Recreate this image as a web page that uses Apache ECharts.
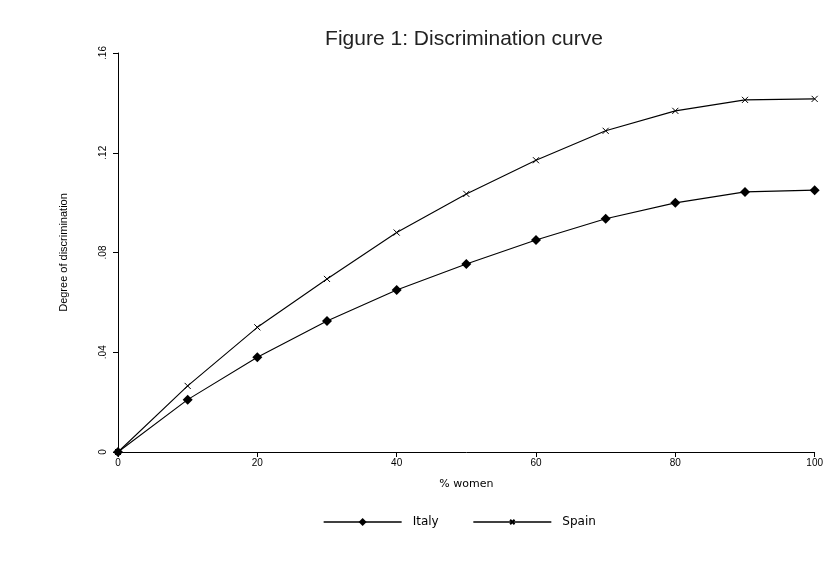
<!DOCTYPE html>
<html><head><meta charset="utf-8">
<script src="https://cdn.jsdelivr.net/npm/echarts@6/dist/echarts.min.js"></script>
<style>html,body{margin:0;padding:0;background:#fff}#c{width:826px;height:563px}</style>
</head><body><div id="c"></div>
<script>
const categories = [0, 10, 20, 30, 40, 50, 60, 70, 80, 90, 100];
const italy = [0, 0.021, 0.038, 0.0525, 0.065, 0.0754, 0.085, 0.0935, 0.0999, 0.1043, 0.105];
const spain = [0, 0.0265, 0.050, 0.0694, 0.088, 0.1035, 0.117, 0.1288, 0.1368, 0.1412, 0.1416];
const yTicks = ['0', '.04', '.08', '.12', '.16'];

const chart = echarts.init(document.getElementById('c'));
const font = 'Liberation Sans, Arial, sans-serif';
const crossPadded = 'path://M-4,-4M0,0L10,10M10,0L0,10M14,14';
chart.setOption({
  backgroundColor: '#fff',
  animation: false,
  title: {
    text: 'Figure 1: Discrimination curve',
    left: 459, top: 24, textAlign: 'center',
    textStyle: { fontFamily: font, fontSize: 21, fontWeight: 'normal', color: '#222' }
  },
  legend: {
    top: 511, left: 318,
    itemWidth: 78, itemHeight: 10, itemGap: 34,
    lineStyle: { width: 1.3 },
    textStyle: { fontFamily: 'DejaVu Sans, sans-serif', fontSize: 12, color: '#000', padding: [0, 0, 0, 6] },
    data: ['Italy', 'Spain']
  },
  grid: { left: 118, right: 11, top: 53, bottom: 111, containLabel: false },
  xAxis: {
    type: 'value', min: 0, max: 100, interval: 20,
    name: '% women', nameLocation: 'middle', nameGap: 27,
    nameTextStyle: { fontFamily: 'DejaVu Sans, sans-serif', fontSize: 11, color: '#000' },
    axisLine: { lineStyle: { color: '#000', width: 1 } },
    axisTick: { show: true, length: 5, lineStyle: { color: '#000' } },
    axisLabel: { fontFamily: font, fontSize: 10, color: '#000', margin: 6 },
    splitLine: { show: false }
  },
  yAxis: {
    type: 'value', min: 0, max: 0.16, interval: 0.04,
    name: 'Degree of discrimination', nameLocation: 'middle', nameGap: 49,
    nameTextStyle: { fontFamily: font, fontSize: 11, color: '#000' },
    axisLine: { show: true, lineStyle: { color: '#000', width: 1 } },
    axisTick: { show: true, length: 5, lineStyle: { color: '#000' } },
    axisLabel: {
      fontFamily: font, fontSize: 10, color: '#000', rotate: 90, margin: 10,
      formatter: function (v) { return yTicks[Math.round(v / 0.04)]; }
    },
    splitLine: { show: false }
  },
  series: [
    {
      name: 'Italy', type: 'line',
      data: categories.map((x, i) => [x, italy[i]]),
      symbol: 'diamond', symbolSize: 10,
      lineStyle: { color: '#000', width: 1.1 },
      itemStyle: { color: '#000', borderColor: '#000', borderWidth: 0 }
    },
    {
      name: 'Spain', type: 'line',
      data: categories.map((x, i) => [x, spain[i]]),
      symbol: crossPadded, symbolSize: 11,
      lineStyle: { color: '#000', width: 1.1 },
      itemStyle: { color: '#000', borderColor: '#000', borderWidth: 1 }
    }
  ]
});
</script></body></html>
